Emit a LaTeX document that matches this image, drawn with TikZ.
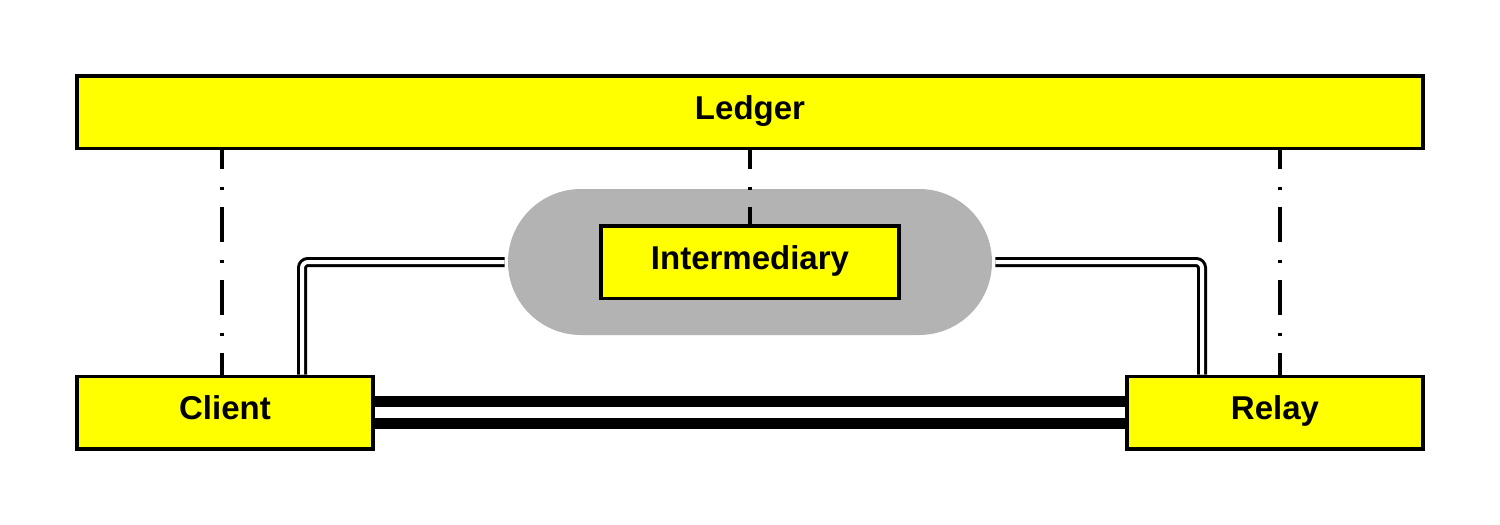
\documentclass[tikz,border=0pt]{standalone}
\usepackage{fontspec}
\setmainfont{Liberation Sans}
\definecolor{unityellow}{RGB}{255, 255, 0}
\definecolor{hubgray}{RGB}{179, 179, 179}
\usetikzlibrary{positioning, calc}

\tikzset{
  unit/.style={draw=black, line width=1.75pt, fill=unityellow, inner sep=0pt,
    text height=11pt, text depth=4pt,
    minimum height=36.25pt, font=\fontsize{16.5}{20}\selectfont\bfseries},
  hubshape/.style={fill=hubgray, rounded corners=36.5pt, minimum width=242pt, minimum height=73pt},
  ledgerlink/.style={line width=1.6pt, dash pattern=on 17.5pt off 8.75pt on 1.5pt off 8.75pt, dash phase=8pt},
  wire/.style={draw=black, line width=1.5pt, double=white, double distance=2pt, rounded corners=3pt},
  bus/.style={draw=black, line width=5.25pt, double=white, double distance=5.75pt}
}

\begin{document}
\begin{tikzpicture}[x=0.5pt, y=-0.5pt]
  \useasboundingbox (0,0) rectangle (1500,525);

  \node[hubshape] (hub) at (750,262) {};
  \node[unit, minimum width=673pt] (Ledger) at (750,112) {Ledger};
  \node[unit, minimum width=148pt] (Client) at (225,412.5) {Client};
  \node[unit, minimum width=148pt] (Relay) at (1275,412.5) {Relay};
  \node[unit, minimum width=149pt] (Intermediary) at (hub.center) {Intermediary};

  % ledger links
  \draw[ledgerlink] ([xshift=-1.5pt]Client.north |- Ledger.south) -- ([xshift=-1.5pt]Client.north);
  \draw[ledgerlink] (Ledger.south -| Intermediary.north) -- (Intermediary.north);
  \draw[ledgerlink] ([xshift=2.5pt]Relay.north |- Ledger.south) -- ([xshift=2.5pt]Relay.north);

  % connections
  \draw[wire] ([xshift=38.5pt]Client.north) |- ([xshift=-1.5pt]hub.west);
  \draw[wire] ([xshift=-36.5pt]Relay.north) |- ([xshift=1.5pt]hub.east);
  \draw[bus] (Client.east) -- (Relay.west);
\end{tikzpicture}
\end{document}
